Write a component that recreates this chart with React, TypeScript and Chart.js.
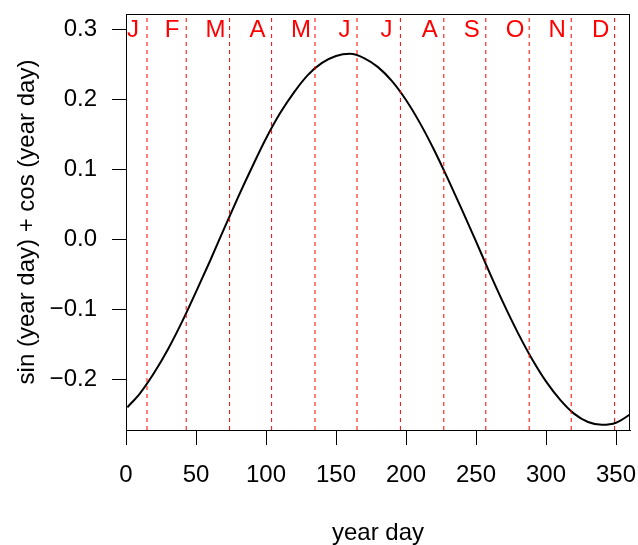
import React, { useEffect, useRef } from "react";
import { Chart, registerables } from "chart.js";

Chart.register(...registerables);

const curveDays = [1, 10, 20, 30, 40, 50, 60, 70, 80, 90, 100, 110, 120, 130, 140, 150, 160, 170, 180, 190, 200, 210, 220, 230, 240, 250, 260, 270, 280, 290, 300, 310, 320, 330, 340, 350, 360, 365];
const curveValues = [-0.240, -0.220, -0.191, -0.157, -0.118, -0.075, -0.031, 0.015, 0.060, 0.103, 0.144, 0.180, 0.210, 0.235, 0.252, 0.262, 0.265, 0.259, 0.246, 0.226, 0.199, 0.166, 0.128, 0.086, 0.042, -0.003, -0.049, -0.093, -0.134, -0.171, -0.203, -0.229, -0.249, -0.261, -0.265, -0.262, -0.250, -0.242];

const monthLetters = ["J", "F", "M", "A", "M", "J", "J", "A", "S", "O", "N", "D"];
const letterDays = [5, 33, 64, 94, 125, 156, 186, 217, 247, 278, 308, 339];
const midMonthDays = [15, 43, 74, 104, 135, 165, 196, 227, 257, 288, 318, 349];
const letterLevel = 0.3;

const xTicks = [0, 50, 100, 150, 200, 250, 300, 350];
const yTicks = [-0.2, -0.1, 0.0, 0.1, 0.2, 0.3];
const xRange = [0, 360];
const yRange = [-0.2724, 0.3219];

const xTitle = "year day";
const yTitle = "sin (year day) + cos (year day)";

const FONT = "'Liberation Sans', Arial, Helvetica, sans-serif";
const FS = 24;

export default function App() {
  const ref = useRef<HTMLCanvasElement | null>(null);

  useEffect(() => {
    document.body.style.margin = "0";
    const canvas = ref.current;
    if (!canvas) return;

    const boxPlugin = {
      id: "boxAndLetters",
      afterDatasetsDraw(chart: any) {
        const { ctx, chartArea, scales } = chart;
        ctx.save();
        ctx.fillStyle = "#FF0000";
        ctx.font = `${FS}px ${FONT}`;
        ctx.textAlign = "center";
        ctx.textBaseline = "middle";
        monthLetters.forEach((m, i) => {
          const x = scales.x.getPixelForValue(letterDays[i]);
          const y = scales.y.getPixelForValue(letterLevel);
          ctx.fillText(m, x, y + 1.5);
        });
        ctx.strokeStyle = "#000000";
        ctx.lineWidth = 1;
        ctx.strokeRect(
          Math.round(chartArea.left) + 0.5,
          Math.round(chartArea.top) + 0.5,
          Math.round(chartArea.right - chartArea.left) - 1,
          Math.round(chartArea.bottom - chartArea.top)
        );
        ctx.restore();
      },
    };

    const vlines = midMonthDays.map((d) => ({
      data: [
        { x: d, y: yRange[0] },
        { x: d, y: yRange[1] },
      ],
      borderColor: "#FF0000",
      backgroundColor: "#FF0000",
      borderWidth: 1,
      borderDash: [4, 4],
      pointRadius: 0,
      tension: 0,
      fill: false,
    }));

    const zeroPad = (s: any) => {
      s.paddingTop = 0;
      s.paddingBottom = 0;
      s.paddingLeft = 0;
      s.paddingRight = 0;
    };

    const chart = new Chart(canvas, {
      type: "line",
      data: {
        datasets: [
          ...vlines,
          {
            data: curveDays.map((d, i) => ({ x: d, y: curveValues[i] })),
            borderColor: "#000000",
            backgroundColor: "#000000",
            borderWidth: 2,
            pointRadius: 0,
            cubicInterpolationMode: "monotone",
            fill: false,
          },
        ],
      },
      options: {
        animation: false,
        responsive: false,
        devicePixelRatio: 1,
        layout: { padding: { top: 14, right: 8, left: 0, bottom: 0 } },
        plugins: { legend: { display: false }, tooltip: { enabled: false } },
        scales: {
          x: {
            type: "linear",
            min: xRange[0],
            max: xRange[1],
            afterBuildTicks: (s: any) => {
              s.ticks = xTicks.map((v) => ({ value: v }));
            },
            afterFit: (s: any) => {
              s.height = 115;
              zeroPad(s);
            },
            grid: { drawOnChartArea: false, drawTicks: true, tickLength: 15, color: "#000000" },
            border: { display: true, color: "#000000" },
            ticks: {
              color: "#000000",
              font: { size: FS, family: FONT },
              padding: 16,
              maxRotation: 0,
              autoSkip: false,
              callback: (v: any) => String(v),
            },
            title: {
              display: true,
              text: xTitle,
              color: "#000000",
              font: { size: FS, family: FONT, lineHeight: 1 },
              padding: 0,
            },
          },
          y: {
            type: "linear",
            min: yRange[0],
            max: yRange[1],
            afterBuildTicks: (s: any) => {
              s.ticks = yTicks.map((v) => ({ value: v }));
            },
            afterFit: (s: any) => {
              s.width = 126;
              zeroPad(s);
            },
            grid: { drawOnChartArea: false, drawTicks: true, tickLength: 14, color: "#000000" },
            border: { display: true, color: "#000000" },
            ticks: {
              color: "#000000",
              font: { size: FS, family: FONT },
              padding: 15,
              autoSkip: false,
              callback: (v: any) => Number(v).toFixed(1).replace("-", "\u2212"),
            },
            title: {
              display: true,
              text: yTitle,
              color: "#000000",
              font: { size: FS, family: FONT, lineHeight: 1 },
              padding: { top: 15, bottom: 0 },
            },
          },
        },
      },
      plugins: [boxPlugin],
    });

    return () => chart.destroy();
  }, []);

  return <canvas ref={ref} width={638} height={545} style={{ display: "block" }} />;
}
